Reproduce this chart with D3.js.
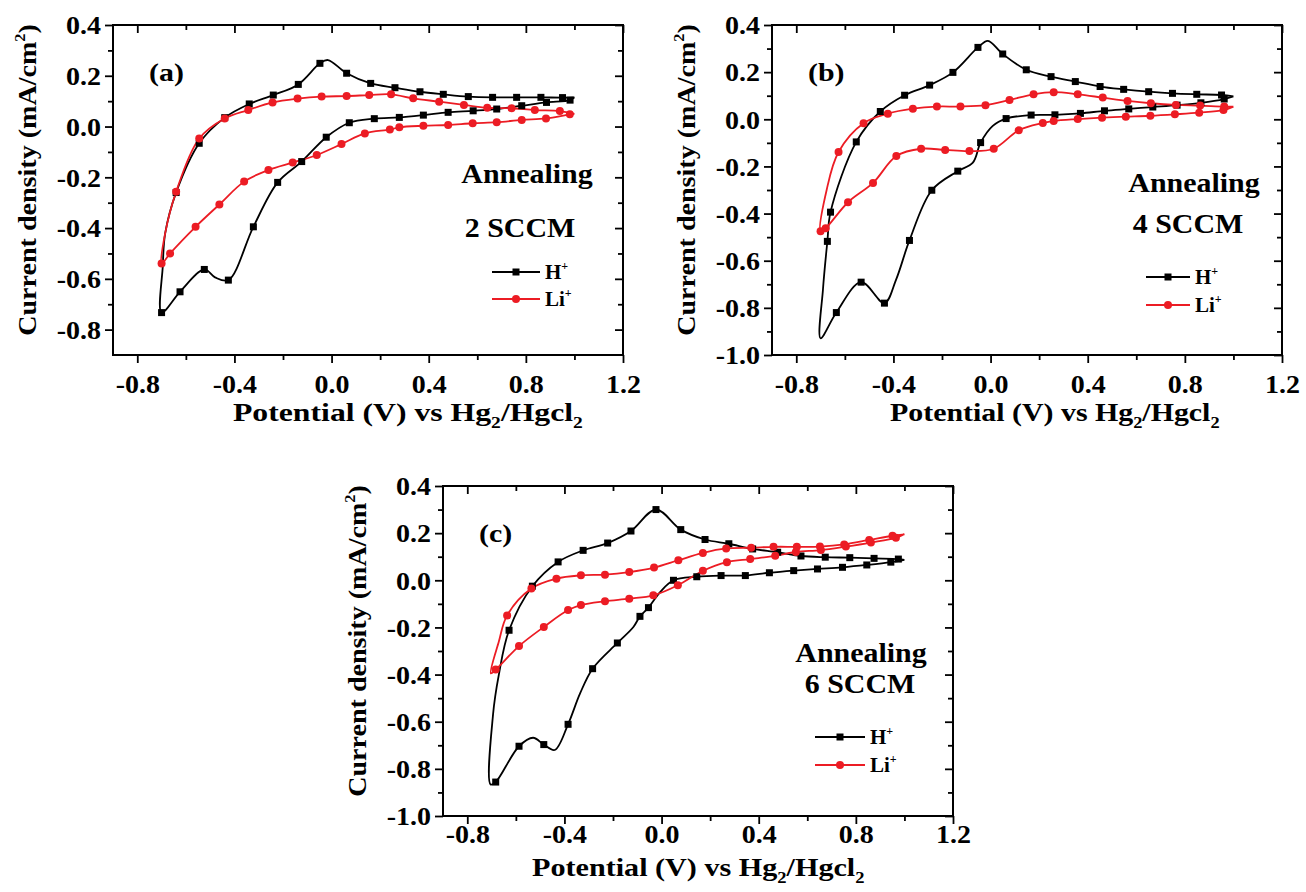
<!DOCTYPE html>
<html lang="en">
<head>
  <meta charset="UTF-8">
  <title>CV curves, annealed films</title>
  <style>
    body { margin: 0; background: #fff; }
    text { font-family: "Liberation Serif", "Times New Roman", serif; font-weight: bold; }
  </style>
</head>
<body>
<div id="chart"></div>
<script src="https://d3js.org/d3.v7.min.js"></script>
<script>
  // ---- values ----
  const xTickValues = [-0.8, -0.4, 0.0, 0.4, 0.8, 1.2];
  const xMinorValues = [-0.6, -0.2, 0.2, 0.6, 1.0];
  const yTicksA = [-0.8, -0.6, -0.4, -0.2, 0.0, 0.2, 0.4];
  const yMinorA = [-0.7, -0.5, -0.3, -0.1, 0.1, 0.3];
  const yTicksBC = [-1.0, -0.8, -0.6, -0.4, -0.2, 0.0, 0.2, 0.4];
  const yMinorBC = [-0.9, -0.7, -0.5, -0.3, -0.1, 0.1, 0.3];
  const panelTags = ["(a)", "(b)", "(c)"];
  const flowLabels = ["2 SCCM", "4 SCCM", "6 SCCM"];
  const ionNames = ["H", "Li"];

  // [potential, current, marker?]  third value 0 = line vertex without marker
  const aH = [[1.0, 0.115, 0], [0.982, 0.104], [0.885, 0.095], [0.783, 0.082], [0.68, 0.069], [0.583, 0.062],
    [0.48, 0.056], [0.378, 0.045], [0.279, 0.036], [0.176, 0.031], [0.073, 0.015], [-0.022, -0.042],
    [-0.123, -0.138], [-0.222, -0.22], [-0.322, -0.395], [-0.425, -0.605], [-0.48, -0.594, 0],
    [-0.524, -0.563], [-0.624, -0.651], [-0.70, -0.733], [-0.695, -0.55, 0], [-0.685, -0.42, 0],
    [-0.64, -0.26], [-0.545, -0.066], [-0.44, 0.035], [-0.339, 0.089], [-0.24, 0.124], [-0.137, 0.166],
    [-0.048, 0.249], [-0.015, 0.262, 0], [0.062, 0.21], [0.161, 0.17], [0.261, 0.153], [0.364, 0.137],
    [0.46, 0.127], [0.563, 0.118], [0.663, 0.115], [0.762, 0.115], [0.862, 0.115], [0.951, 0.114], [1.0, 0.115, 0]];
  const aLi = [[1.0, 0.05, 0], [0.981, 0.048], [0.883, 0.032], [0.783, 0.026], [0.68, 0.017], [0.581, 0.013],
    [0.48, 0.006], [0.378, 0.003], [0.279, -0.003], [0.24, -0.012], [0.137, -0.027], [0.041, -0.069],
    [-0.061, -0.112], [-0.16, -0.142], [-0.26, -0.171], [-0.36, -0.217], [-0.462, -0.307], [-0.56, -0.395],
    [-0.665, -0.5], [-0.70, -0.54], [-0.685, -0.42, 0], [-0.64, -0.257], [-0.545, -0.047], [-0.44, 0.032],
    [-0.343, 0.065], [-0.243, 0.095], [-0.14, 0.11], [-0.041, 0.118], [0.062, 0.12], [0.155, 0.124],
    [0.245, 0.127], [0.336, 0.111], [0.443, 0.098], [0.545, 0.085], [0.641, 0.074], [0.741, 0.072],
    [0.837, 0.065], [0.94, 0.061], [1.0, 0.05, 0]];

  const bH = [[1.0, 0.097, 0], [0.962, 0.086], [0.866, 0.07], [0.768, 0.06], [0.668, 0.052], [0.569, 0.044],
    [0.469, 0.036], [0.37, 0.025], [0.265, 0.019], [0.167, 0.018], [0.064, 0.003], [0.009, -0.028, 0],
    [-0.041, -0.099], [-0.073, -0.184, 0], [-0.135, -0.22], [-0.242, -0.301], [-0.334, -0.514],
    [-0.389, -0.68, 0], [-0.437, -0.78], [-0.533, -0.691], [-0.635, -0.82], [-0.70, -0.929, 0],
    [-0.69, -0.72, 0], [-0.672, -0.518], [-0.659, -0.394], [-0.553, -0.096], [-0.454, 0.033], [-0.354, 0.102],
    [-0.251, 0.145], [-0.155, 0.199], [-0.052, 0.305], [-0.011, 0.333, 0], [0.05, 0.277], [0.147, 0.21],
    [0.249, 0.181], [0.349, 0.16], [0.451, 0.139], [0.548, 0.127], [0.651, 0.117], [0.749, 0.11],
    [0.849, 0.106], [0.951, 0.103], [1.0, 0.097, 0]];
  const bLi = [[1.0, 0.054, 0], [0.959, 0.039], [0.859, 0.028], [0.759, 0.021], [0.658, 0.015], [0.557, 0.011],
    [0.459, 0.007], [0.359, 0.001], [0.26, -0.007], [0.215, -0.016], [0.116, -0.047], [0.013, -0.125],
    [-0.087, -0.135], [-0.187, -0.13], [-0.286, -0.125], [-0.388, -0.156], [-0.484, -0.27], [-0.587, -0.352],
    [-0.679, -0.462], [-0.70, -0.475], [-0.675, -0.3, 0], [-0.626, -0.139], [-0.523, -0.017], [-0.423, 0.024],
    [-0.32, 0.045], [-0.221, 0.054], [-0.124, 0.054], [-0.021, 0.06], [0.078, 0.082], [0.177, 0.106],
    [0.26, 0.115], [0.359, 0.106], [0.462, 0.092], [0.564, 0.078], [0.66, 0.068], [0.763, 0.061],
    [0.863, 0.058], [0.962, 0.054], [1.0, 0.054, 0]];

  const cH = [[1.0, 0.087, 0], [0.944, 0.077], [0.845, 0.065], [0.745, 0.055], [0.642, 0.048], [0.544, 0.041],
    [0.444, 0.032], [0.345, 0.02], [0.245, 0.02], [0.145, 0.015], [0.049, 0.0], [-0.006, -0.05, 0],
    [-0.054, -0.116], [-0.089, -0.153], [-0.116, -0.198, 0], [-0.182, -0.266], [-0.284, -0.375],
    [-0.336, -0.481, 0], [-0.385, -0.611], [-0.44, -0.72, 0], [-0.485, -0.697], [-0.529, -0.668, 0],
    [-0.587, -0.704], [-0.683, -0.856], [-0.704, -0.866, 0], [-0.694, -0.57, 0], [-0.67, -0.40, 0],
    [-0.628, -0.212], [-0.532, -0.025], [-0.426, 0.078], [-0.323, 0.127], [-0.222, 0.158], [-0.126, 0.209],
    [-0.023, 0.3], [0.079, 0.215], [0.179, 0.173], [0.277, 0.155], [0.375, 0.133], [0.478, 0.119],
    [0.574, 0.103], [0.674, 0.098], [0.775, 0.096], [0.875, 0.093], [0.975, 0.09], [1.0, 0.087, 0]];
  const cLi = [[1.0, 0.195, 0], [0.965, 0.18], [0.862, 0.16], [0.759, 0.143], [0.656, 0.128], [0.553, 0.12],
    [0.468, 0.104], [0.365, 0.09], [0.269, 0.077], [0.17, 0.04], [0.067, -0.021], [-0.034, -0.064],
    [-0.133, -0.078], [-0.233, -0.089], [-0.332, -0.105], [-0.385, -0.126], [-0.485, -0.198],
    [-0.587, -0.279], [-0.683, -0.379], [-0.703, -0.395, 0], [-0.67, -0.26, 0], [-0.636, -0.149],
    [-0.536, -0.035], [-0.433, 0.007], [-0.332, 0.021], [-0.233, 0.024], [-0.133, 0.035], [-0.031, 0.054],
    [0.069, 0.085], [0.17, 0.116], [0.266, 0.135], [0.369, 0.138], [0.461, 0.142], [0.557, 0.142],
    [0.652, 0.143], [0.752, 0.152], [0.855, 0.171], [0.951, 0.189], [1.0, 0.195, 0]];

  // ---- drawing ----
  const W = 1306, H = 892, PW = 510, PH = 330;
  const RED = "#ec1c24";

  const panels = [
    {left: 113, top: 25, yDomain: [-0.9, 0.4], yTicks: yTicksA, yMinor: yMinorA, h: aH, li: aLi,
      ann: [414, 158, 407, 212], leg: [379, 427, 247, 274], tickY: 38, titleY: 66, titleX: 233, titleSx: 1.22},
    {left: 772, top: 25, yDomain: [-1.0, 0.4], yTicks: yTicksBC, yMinor: yMinorBC, h: bH, li: bLi,
      ann: [422, 167, 416, 208], leg: [374, 418, 252, 280], tickY: 38, titleY: 66, titleX: 890, titleSx: 1.15},
    {left: 443, top: 486, yDomain: [-1.0, 0.4], yTicks: yTicksBC, yMinor: yMinorBC, h: cH, li: cLi,
      ann: [418, 176, 417, 207], leg: [372, 422, 251, 279], tickY: 27, titleY: 60, titleX: 532, titleSx: 1.16}
  ];

  const svg = d3.select("#chart").append("svg").attr("width", W).attr("height", H);

  // text in the source figure is drawn a little wide
  function wideText(g, x, y, fs, sx, anchor) {
    return g.append("text")
      .attr("transform", `translate(${x},${y}) scale(${sx},1)`)
      .attr("font-size", fs)
      .attr("text-anchor", anchor || "start")
      .attr("fill", "#000");
  }

  panels.forEach(function (p, i) {
    const g = svg.append("g").attr("transform", `translate(${p.left},${p.top})`);
    const x = d3.scaleLinear().domain([-0.9, 1.2]).range([0, PW]);
    const y = d3.scaleLinear().domain(p.yDomain).range([PH, 0]);
    const fmt = d => d.toFixed(1);
    const SXT = 1.12;

    // minor ticks
    g.append("g").attr("transform", `translate(0,${PH})`)
      .call(d3.axisBottom(x).tickValues(xMinorValues).tickSize(5).tickFormat(""));
    g.append("g").call(d3.axisTop(x).tickValues(xMinorValues).tickSize(-5).tickFormat(""));
    g.append("g").call(d3.axisLeft(y).tickValues(p.yMinor).tickSize(5).tickFormat(""));
    g.append("g").attr("transform", `translate(${PW},0)`)
      .call(d3.axisRight(y).tickValues(p.yMinor).tickSize(-5).tickFormat(""));

    // major ticks
    const bottom = g.append("g").attr("transform", `translate(0,${PH})`)
      .call(d3.axisBottom(x).tickValues(xTickValues).tickSize(8).tickSizeOuter(0).tickFormat(fmt));
    const left = g.append("g")
      .call(d3.axisLeft(y).tickValues(p.yTicks).tickSize(8).tickSizeOuter(0).tickFormat(fmt));
    g.append("g").call(d3.axisTop(x).tickValues(xTickValues).tickSize(-8).tickFormat(""));
    g.append("g").attr("transform", `translate(${PW},0)`)
      .call(d3.axisRight(y).tickValues(p.yTicks).tickSize(-8).tickFormat(""));

    g.selectAll(".tick line").attr("stroke", "#000").attr("stroke-width", 1.8);
    g.selectAll(".domain").remove();

    bottom.selectAll(".tick text")
      .attr("y", p.tickY).attr("dy", null)
      .attr("transform", `scale(${SXT},1)`)
      .attr("font-size", 25).attr("font-family", null).attr("fill", "#000");
    left.selectAll(".tick text")
      .attr("x", -12 / SXT).attr("dy", "0.35em")
      .attr("transform", `scale(${SXT},1)`)
      .attr("font-size", 25).attr("font-family", null).attr("fill", "#000");

    g.append("rect").attr("width", PW).attr("height", PH)
      .attr("fill", "none").attr("stroke", "#000").attr("stroke-width", 2);

    // curves
    const line = d3.line().x(d => x(d[0])).y(d => y(d[1])).curve(d3.curveCatmullRom.alpha(0.5));
    g.append("path").datum(p.h).attr("d", line)
      .attr("fill", "none").attr("stroke", "#000").attr("stroke-width", 1.8);
    g.append("path").datum(p.li).attr("d", line)
      .attr("fill", "none").attr("stroke", RED).attr("stroke-width", 1.8);

    g.selectAll(".sq").data(p.h.filter(d => d[2] !== 0)).join("rect")
      .attr("x", d => x(d[0]) - 3.5).attr("y", d => y(d[1]) - 3.5)
      .attr("width", 7).attr("height", 7).attr("fill", "#000");
    g.selectAll(".ci").data(p.li.filter(d => d[2] !== 0)).join("circle")
      .attr("cx", d => x(d[0])).attr("cy", d => y(d[1])).attr("r", 4).attr("fill", RED);

    // texts
    wideText(g, 36, 56, 26, 1.15).text(panelTags[i]);
    wideText(g, p.ann[0], p.ann[1], 28, 1.07, "middle").text("Annealing");
    wideText(g, p.ann[2], p.ann[3], 28, 1.07, "middle").text(flowLabels[i]);

    // legend
    [p.leg[2], p.leg[3]].forEach(function (ly, k) {
      const col = k === 0 ? "#000" : RED;
      g.append("line").attr("x1", p.leg[0]).attr("x2", p.leg[1]).attr("y1", ly).attr("y2", ly)
        .attr("stroke", col).attr("stroke-width", 1.8);
      const mx = (p.leg[0] + p.leg[1]) / 2;
      if (k === 0) {
        g.append("rect").attr("x", mx - 3.5).attr("y", ly - 3.5).attr("width", 7).attr("height", 7).attr("fill", col);
      } else {
        g.append("circle").attr("cx", mx).attr("cy", ly).attr("r", 4).attr("fill", col);
      }
      const t = wideText(g, p.leg[1] + 5, ly + 7, 21, 1.0);
      t.append("tspan").text(ionNames[k]);
      t.append("tspan").attr("font-size", 12).attr("dy", -9).text("+");
    });

    // axis titles
    const xt = wideText(g, p.titleX - p.left, PH + p.titleY, 26, p.titleSx, "start");
    xt.append("tspan").text("Potential (V) vs Hg");
    xt.append("tspan").attr("font-size", 16).attr("dy", 7).text("2");
    xt.append("tspan").attr("dy", -7).text("/Hgcl");
    xt.append("tspan").attr("font-size", 16).attr("dy", 7).text("2");

    const yt = g.append("text")
      .attr("transform", `translate(-77,${PH / 2 - 10}) rotate(-90) scale(1.08,1)`)
      .attr("font-size", 26).attr("text-anchor", "middle").attr("fill", "#000");
    yt.append("tspan").text("Current density (mA/cm");
    yt.append("tspan").attr("font-size", 15).attr("dy", -11).text("2");
    yt.append("tspan").attr("dy", 11).text(")");
  });
</script>
</body>
</html>
